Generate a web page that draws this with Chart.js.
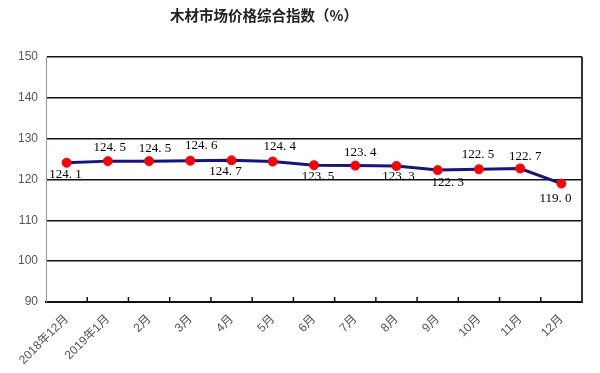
<!DOCTYPE html>
<html>
<head>
<meta charset="utf-8">
<script src="https://cdn.jsdelivr.net/npm/chart.js@4/dist/chart.umd.min.js"></script>
<style>
  html, body { margin: 0; padding: 0; background: #fff; }
  #wrap { position: relative; width: 600px; height: 373px; }
  #title { position: absolute; left: 0; top: 5px; width: 528px; text-align: center;
           font-family: "Noto Sans CJK SC", sans-serif; font-weight: bold; font-size: 14.5px;
           color: #222; line-height: 20px; }
  canvas { position: absolute; left: 0; top: 0; }
</style>
</head>
<body>
<div id="wrap">
  <canvas id="c" width="600" height="373"></canvas>
  <div id="title">木材市场价格综合指数（%）</div>
</div>
<script>
const categories = ["2018年12月", "2019年1月", "2月", "3月", "4月", "5月", "6月", "7月", "8月", "9月", "10月", "11月", "12月"];
const indexValues = [124.1, 124.5, 124.5, 124.6, 124.7, 124.4, 123.5, 123.4, 123.3, 122.3, 122.5, 122.7, 119.0];
const yTicks = [90, 100, 110, 120, 130, 140, 150];

// label placement (style): offsets of each data label from its point, in px
const labelDx = [-1, 2, 6, 11, -6, 7, 4, 5, 2, 10, -1, 5, -6];
const labelDy = [12, -14, -13, -15, 11, -15, 11, -13, 11, 12, -15, -12, 15];

const decorPlugin = {
  id: 'decor',
  afterDraw(chart) {
    const ctx = chart.ctx;
    const area = chart.chartArea;
    const xs = chart.scales.x;
    ctx.save();
    // right frame line
    ctx.strokeStyle = '#333';
    ctx.lineWidth = 2;
    ctx.beginPath();
    ctx.moveTo(area.right, area.top);
    ctx.lineTo(area.right, area.bottom);
    ctx.stroke();
    // inward tick marks between categories
    ctx.strokeStyle = '#111';
    ctx.lineWidth = 1.5;
    for (let i = 1; i < categories.length; i++) {
      const bx = (xs.getPixelForValue(i - 1) + xs.getPixelForValue(i)) / 2;
      ctx.beginPath();
      ctx.moveTo(bx, area.bottom);
      ctx.lineTo(bx, area.bottom - 5);
      ctx.stroke();
    }
    // data labels
    const meta = chart.getDatasetMeta(0);
    ctx.fillStyle = '#000';
    ctx.font = '13px "Liberation Serif", "DejaVu Serif", serif';
    ctx.textAlign = 'center';
    ctx.textBaseline = 'middle';
    meta.data.forEach((pt, i) => {
      const txt = indexValues[i].toFixed(1).replace('.', '. ');
      ctx.fillText(txt, pt.x + labelDx[i], pt.y + labelDy[i]);
    });
    ctx.restore();
  }
};

new Chart(document.getElementById('c'), {
  type: 'line',
  data: {
    labels: categories,
    datasets: [{
      data: indexValues,
      borderColor: '#14148a',
      borderWidth: 3,
      pointBackgroundColor: '#ff0000',
      pointBorderColor: '#ff0000',
      pointRadius: 4.5,
      pointBorderWidth: 1,
      tension: 0,
      fill: false
    }]
  },
  options: {
    responsive: false,
    animation: false,
    devicePixelRatio: 1,
    layout: { padding: { top: 57, right: 18, left: 0, bottom: 0 } },
    plugins: { legend: { display: false }, title: { display: false }, tooltip: { enabled: false } },
    scales: {
      x: {
        type: 'category',
        offset: true,
        afterFit(s) { s.height = 71; },
        grid: { display: false, drawTicks: false },
        border: { display: true, color: '#111', width: 2 },
        ticks: {
          autoSkip: false,
          minRotation: 45,
          maxRotation: 45,
          padding: 10,
          color: '#555',
          font: { family: '"Liberation Sans", "Noto Sans CJK SC", sans-serif', size: 12 }
        }
      },
      y: {
        min: 90,
        max: 150,
        afterFit(s) { s.width = 46; },
        afterBuildTicks(s) { s.ticks = yTicks.map(v => ({ value: v })); },
        grid: { color: '#111', lineWidth: 1.5, drawTicks: false },
        border: { display: true, color: '#999', width: 1 },
        ticks: {
          padding: 8,
          color: '#595959',
          font: { family: '"Liberation Sans", Arial, sans-serif', size: 12 }
        }
      }
    }
  },
  plugins: [decorPlugin]
});
</script>
</body>
</html>
